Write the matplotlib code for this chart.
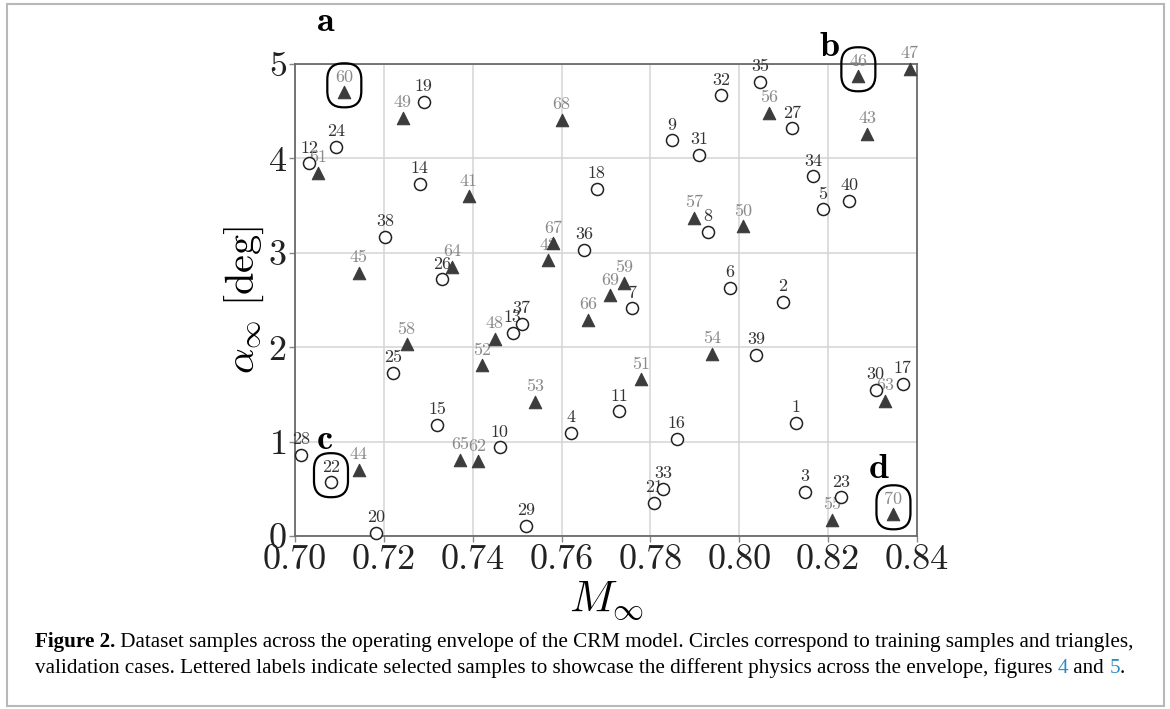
import matplotlib
matplotlib.use("Agg")
import matplotlib.pyplot as plt
import numpy as np
from matplotlib.patches import FancyBboxPatch, Rectangle
from matplotlib.transforms import ScaledTranslation

plt.rcParams['font.family'] = 'serif'
plt.rcParams['font.serif'] = ['cmr10', 'DejaVu Serif']
plt.rcParams['mathtext.fontset'] = 'cm'
plt.rcParams['axes.formatter.use_mathtext'] = True

# training samples (circles)
train_id = np.arange(1, 41)
train_mach = [0.8128, 0.8098, 0.8148, 0.7621, 0.8188, 0.7979, 0.7759, 0.7929, 0.7849, 0.7461,
              0.7729, 0.7032, 0.7490, 0.7281, 0.7320, 0.7859, 0.8368, 0.7679, 0.7290, 0.7182,
              0.7809, 0.7081, 0.8229, 0.7092, 0.7221, 0.7331, 0.8119, 0.7013, 0.7521, 0.8307,
              0.7910, 0.7959, 0.7829, 0.8167, 0.8047, 0.7650, 0.7510, 0.7203, 0.8038, 0.8248]
train_alpha = [1.20, 2.48, 0.47, 1.09, 3.46, 2.63, 2.41, 3.22, 4.19, 0.94,
               1.32, 3.95, 2.15, 3.73, 1.18, 1.03, 1.61, 3.68, 4.60, 0.035,
               0.35, 0.57, 0.41, 4.12, 1.73, 2.72, 4.32, 0.86, 0.11, 1.55,
               4.04, 4.67, 0.50, 3.81, 4.81, 3.03, 2.25, 3.17, 1.92, 3.55]

# validation cases (triangles)
valid_id = np.arange(41, 71)
valid_mach = [0.7391, 0.7570, 0.8288, 0.7143, 0.7143, 0.8268, 0.8384, 0.7450, 0.7242, 0.8009,
              0.7779, 0.7422, 0.7540, 0.7938, 0.8208, 0.8068, 0.7899, 0.7251, 0.7741, 0.7111,
              0.7052, 0.7411, 0.8328, 0.7353, 0.7371, 0.7659, 0.7581, 0.7600, 0.7710, 0.8347]
valid_alpha = [3.60, 2.92, 4.26, 0.70, 2.79, 4.87, 4.95, 2.09, 4.43, 3.28,
               1.66, 1.81, 1.42, 1.93, 0.17, 4.48, 3.37, 2.03, 2.68, 4.70,
               3.85, 0.79, 1.43, 2.85, 0.81, 2.29, 3.10, 4.41, 2.55, 0.23]

# lettered showcase samples
showcase_letter = ['a', 'b', 'c', 'd']
showcase_id = [60, 46, 22, 70]

fig = plt.figure(figsize=(11.7, 7.09), dpi=100)
ax = fig.add_axes([295/1170, 173/709, 622/1170, 472/709])

ax.scatter(train_mach, train_alpha, s=75, marker='o', facecolor='white',
           edgecolor='#222222', linewidth=1.1, zorder=4, clip_on=False)
ax.scatter(valid_mach, valid_alpha, s=80, marker='^', facecolor='#3c3c3c',
           edgecolor='#3c3c3c', linewidth=0.8, zorder=4, clip_on=False)

for i, m, a in zip(train_id, train_mach, train_alpha):
    ax.annotate(str(i), (m, a), xytext=(0, 11), textcoords='offset points',
                ha='center', va='center', fontsize=13, color='#333333', zorder=3)
for i, m, a in zip(valid_id, valid_mach, valid_alpha):
    ax.annotate(str(i), (m, a), xytext=(0, 11), textcoords='offset points',
                ha='center', va='center', fontsize=13, color='#8a8a8a', zorder=3)

# rounded boxes around the showcase samples
all_id = list(train_id) + list(valid_id)
all_mach = train_mach + valid_mach
all_alpha = train_alpha + valid_alpha
for sid in showcase_id:
    k = all_id.index(sid)
    tr = fig.dpi_scale_trans + ScaledTranslation(all_mach[k], all_alpha[k], ax.transData)
    box = FancyBboxPatch((-0.17, -0.15), 0.34, 0.44,
                         boxstyle='round,pad=0,rounding_size=0.16',
                         transform=tr, fill=False, edgecolor='black',
                         linewidth=1.6, zorder=5, clip_on=False)
    ax.add_patch(box)

letter_pos = [(0.7070, 5.44), (0.8204, 5.18), (0.7068, 1.01), (0.8315, 0.70)]
for letter, (lx, ly) in zip(showcase_letter, letter_pos):
    ax.text(lx, ly, letter, family='cmb10', fontsize=26, ha='center', va='center',
            color='black', zorder=6, clip_on=False)

ax.set_xlim(0.70, 0.84)
ax.set_ylim(0, 5)
ax.set_xticks(np.arange(0.70, 0.8401, 0.02))
ax.set_xticklabels(['%.2f' % v for v in np.arange(0.70, 0.8401, 0.02)])
ax.set_yticks(range(6))
ax.tick_params(labelsize=26, length=4, width=1, color='#888888', labelcolor='#222222', pad=2)
ax.grid(True, color='#d4d4d4', linewidth=1.1)
ax.set_axisbelow(True)
for sp in ax.spines.values():
    sp.set_color('#6a6a6a')
    sp.set_linewidth(1.3)

ax.set_xlabel(r'$M_\infty$', fontsize=32, labelpad=2)
ax.set_ylabel(r'$\alpha_\infty\ [\mathrm{deg}]$', fontsize=29, labelpad=1)

# caption underneath the figure
cap = dict(family='Liberation Serif', fontsize=15.2)
t1 = fig.text(35/1170, 1 - 652/709, 'Figure 2.', fontweight='bold', va='bottom', **cap)
ax.annotate(' Dataset samples across the operating envelope of the CRM model. Circles correspond '
            'to training samples and triangles,', xy=(1, 0), xycoords=t1, va='bottom', **cap)
t2 = fig.text(35/1170, 1 - 678/709, 'validation cases. Lettered labels indicate selected samples '
              'to showcase the different physics across the envelope, figures ', va='bottom', **cap)
t3 = ax.annotate('4', xy=(1, 0), xycoords=t2, va='bottom', color='#2b8cc4', **cap)
t4 = ax.annotate(' and ', xy=(1, 0), xycoords=t3, va='bottom', **cap)
t5 = ax.annotate('5', xy=(1, 0), xycoords=t4, va='bottom', color='#2b8cc4', **cap)
ax.annotate('.', xy=(1, 0), xycoords=t5, va='bottom', **cap)

fig.patches.append(Rectangle((7/1170, 3/709), 1157/1170, 702/709, transform=fig.transFigure,
                             fill=False, edgecolor='#b8b8b8', linewidth=1.5))

fig.savefig('out.png', dpi=100)
